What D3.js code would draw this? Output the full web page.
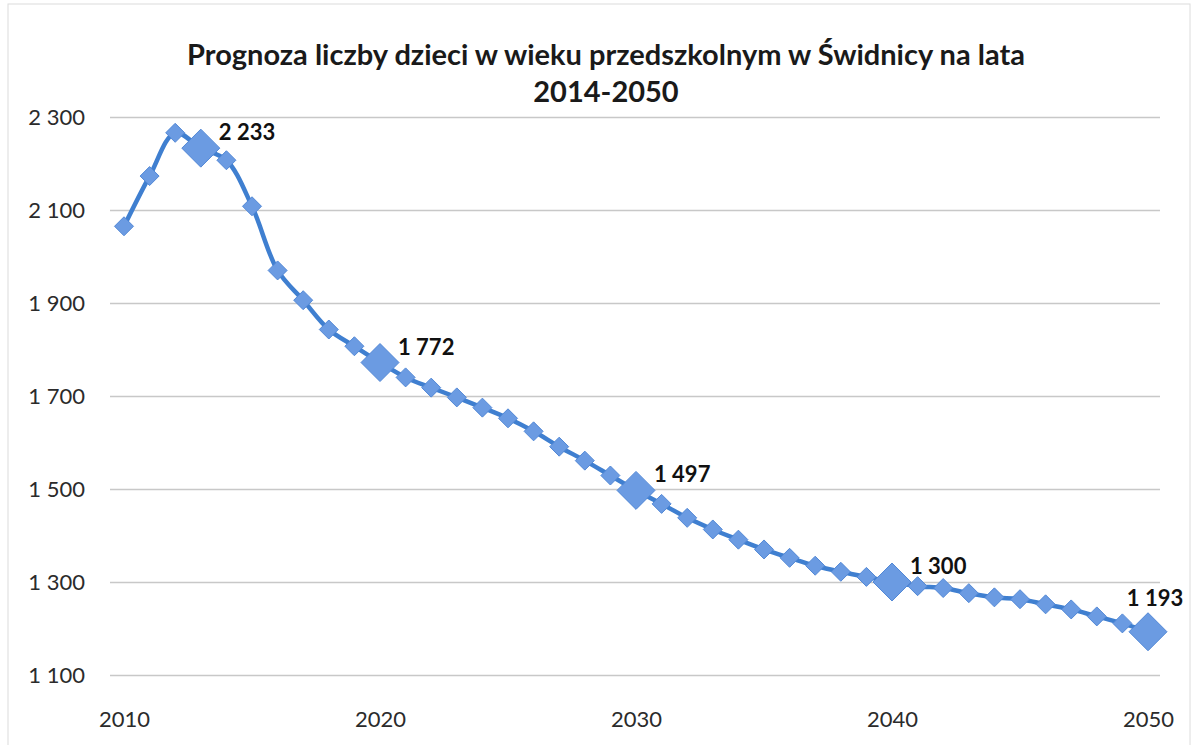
<!DOCTYPE html>
<html><head><meta charset="utf-8">
<script src="https://cdn.jsdelivr.net/npm/d3@7"></script>
<style>body{margin:0;background:#fff}svg{display:block}</style>
</head><body>
<script>
const years = d3.range(2010, 2051);
const values = [2065,2173,2266,2233,2207,2108,1970,1906,1843,1807,
  1772,1740,1718,1697,1675,1652,1624,1591,1561,1529,
  1497,1468,1438,1413,1391,1370,1352,1335,1322,1311,
  1300,1291,1287,1276,1267,1263,1252,1241,1226,1211,1193];
const labeledYears = [2013,2020,2030,2040,2050];
const yTicks = [1100,1300,1500,1700,1900,2100,2300];
const xTicks = [2010,2020,2030,2040,2050];
const titleLines = ["Prognoza liczby dzieci w wieku przedszkolnym w Świdnicy na lata","2014-2050"];

const W = 1192, H = 745;
const svg = d3.select("body").append("svg").attr("width", W).attr("height", H);
const font = "Lato, 'Open Sans', sans-serif";
const loc = d3.formatLocale({decimal: ",", thousands: "\u00a0", grouping: [3], currency: ["", " zł"]});
const fmt = loc.format(",d");

const x = d3.scaleLinear().domain([2010, 2050]).range([124, 1148]);
const y = d3.scaleLinear().domain([1100, 2300]).range([675, 117]);

// frame
svg.append("rect").attr("x", 8).attr("y", 4).attr("width", W - 10).attr("height", H + 10)
  .attr("fill", "none").attr("stroke", "#dcdcdc").attr("stroke-width", 1);

// gridlines + y axis
const yAxis = d3.axisLeft(y).tickValues(yTicks).tickFormat(fmt).tickSize(-(1160 - 110)).tickPadding(25);
const gy = svg.append("g").attr("transform", "translate(110,0)").call(yAxis);
gy.select(".domain").remove();
gy.selectAll(".tick line").attr("stroke", "#c8c8c8").attr("stroke-width", 1.5);
gy.selectAll(".tick text").attr("font-family", font).attr("font-size", 22).attr("fill", "#2b2b2b");

const xAxis = d3.axisBottom(x).tickValues(xTicks).tickFormat(d3.format("d")).tickSize(0).tickPadding(36);
const gx = svg.append("g").attr("transform", "translate(0,675)").call(xAxis);
gx.select(".domain").remove();
gx.selectAll(".tick text").attr("font-family", font).attr("font-size", 22).attr("fill", "#2b2b2b");

// title
svg.append("text").attr("x", 606).attr("y", 65).attr("text-anchor", "middle")
  .attr("font-family", font).attr("font-weight", "bold").attr("font-size", 29).attr("fill", "#1a1a1a")
  .text(titleLines[0]);
svg.append("text").attr("x", 606).attr("y", 102).attr("text-anchor", "middle")
  .attr("font-family", font).attr("font-weight", "bold").attr("font-size", 29).attr("fill", "#1a1a1a")
  .text(titleLines[1]);

const data = years.map((yr, i) => ({yr, v: values[i]}));

// line
const line = d3.line().x(d => x(d.yr)).y(d => y(d.v)).curve(d3.curveCatmullRom.alpha(0.5));
svg.append("path").datum(data).attr("d", line).attr("fill", "none")
  .attr("stroke", "#3f7fd0").attr("stroke-width", 4.5);

// markers
const diamond = s => `M0,${-s}L${s},0L0,${s}L${-s},0Z`;
svg.selectAll("path.mk").data(data).join("path").attr("class", "mk")
  .attr("transform", d => `translate(${x(d.yr)},${y(d.v)})`)
  .attr("d", d => diamond(labeledYears.includes(d.yr) ? 19 : 9.5))
  .attr("fill", "#6b9be2").attr("stroke", "#5288d6").attr("stroke-width", 1);

// labels
const lab = data.filter(d => labeledYears.includes(d.yr));
svg.selectAll("text.lbl").data(lab).join("text").attr("class", "lbl")
  .attr("x", d => d.yr === 2050 ? x(d.yr) + 7 : x(d.yr) + 18)
  .attr("y", d => d.yr === 2050 ? y(d.v) - 26 : y(d.v) - 8)
  .attr("text-anchor", d => d.yr === 2050 ? "middle" : "start")
  .attr("font-family", font).attr("font-weight", "bold").attr("font-size", 22).attr("fill", "#111")
  .text(d => fmt(d.v));
</script>
</body></html>
